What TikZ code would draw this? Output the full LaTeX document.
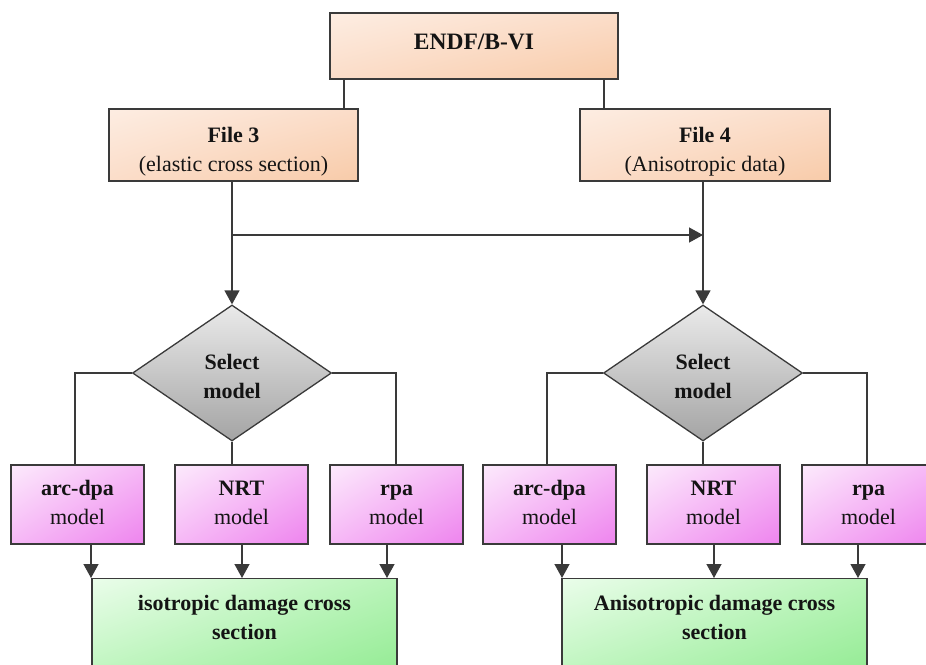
\documentclass[tikz,border=0pt]{standalone}
\usepackage{fontspec}
\setmainfont{Liberation Serif}
\usetikzlibrary{shapes.geometric,arrows.meta,shadings}
\definecolor{ln}{HTML}{3A3A3A}
\definecolor{txt}{HTML}{141414}
\definecolor{peA}{HTML}{FDEDE2}
\definecolor{peB}{HTML}{FBDDC9}
\definecolor{peC}{HTML}{F8CBA9}
\definecolor{piA}{HTML}{FCEAFC}
\definecolor{piB}{HTML}{F6B8F6}
\definecolor{piC}{HTML}{EE84EE}
\definecolor{grA}{HTML}{EAFDEA}
\definecolor{grB}{HTML}{B8F4B8}
\definecolor{grC}{HTML}{8EEA8E}
\definecolor{dgA}{HTML}{EAEAEA}
\definecolor{dgB}{HTML}{A4A4A4}
\newcommand{\lnst}{\vphantom{Adg}}
\newcommand{\upst}[1]{\rule{0pt}{#1}}
\begin{document}
\begin{tikzpicture}[x=1pt,y=-1pt,
  every node/.style={font=\fontsize{22}{29}\selectfont, text=txt, align=center},
  boxbase/.style={draw=ln, line width=1.3pt, rectangle, inner sep=0pt},
  peachbox/.style={boxbase, upper left=peA, upper right=peB, lower left=peB, lower right=peC},
  pinkbox/.style={boxbase, minimum width=133pt, minimum height=79pt, upper left=piA, upper right=piB, lower left=piB, lower right=piC},
  greenbox/.style={boxbase, anchor=north, minimum width=305pt, minimum height=110pt, upper left=grA, upper right=grB, lower left=grB, lower right=grC},
  decide/.style={diamond, draw=ln, line width=1.3pt, inner sep=0pt, aspect=1.46, minimum width=199pt, minimum height=136pt, top color=dgA, bottom color=dgB},
  conn/.style={draw=ln, line width=1.3pt},
  arr/.style={conn, -{Triangle[width=15pt,length=14pt]}}
]
\useasboundingbox (0,0) rectangle (926,664);
\clip (0,0) rectangle (926,664);
\fill[white] (0,0) rectangle (926,664);

% top
\node[peachbox, minimum width=288pt, minimum height=66pt] (endf) at (474,46) {\fontsize{23.5}{29}\selectfont\textbf{ENDF/B-VI}\rule[-8pt]{0pt}{8pt}};
\node[peachbox, minimum width=249pt, minimum height=72pt] (f3) at (233.5,145) {\textbf{File 3}\lnst\upst{29.6pt}\\(elastic cross section)\lnst};
\node[peachbox, minimum width=250pt, minimum height=72pt] (f4) at (705,145) {\textbf{File 4}\lnst\upst{29.6pt}\\(Anisotropic data)\lnst};

\coordinate (e1) at (344,79);
\coordinate (e2) at (604,79);
\draw[conn] (e1) -- (e1 |- f3.north);
\draw[conn] (e2) -- (e2 |- f4.north);

% diamonds
\node[decide] (d1) at (232,373) {\textbf{Select}\lnst\upst{27.6pt}\\\textbf{model}\lnst};
\node[decide] (d2) at (703,373) {\textbf{Select}\lnst\upst{27.6pt}\\\textbf{model}\lnst};

\draw[arr] (d1.north |- f3.south) -- (d1.north);
\draw[arr] (d2.north |- f4.south) -- (d2.north);
\coordinate (j1) at (232,235);
\coordinate (j2) at (703,235);
\draw[arr] (j1) -- (j2);

% model boxes left
\node[pinkbox] (a1) at (77.5,504.5) {\textbf{arc-dpa}\lnst\\model\lnst};
\node[pinkbox] (n1) at (241.5,504.5) {\textbf{NRT}\lnst\\model\lnst};
\node[pinkbox] (r1) at (396.5,504.5) {\textbf{rpa}\lnst\\model\lnst};
% model boxes right
\node[pinkbox] (a2) at (549.5,504.5) {\textbf{arc-dpa}\lnst\\model\lnst};
\node[pinkbox] (n2) at (713.5,504.5) {\textbf{NRT}\lnst\\model\lnst};
\node[pinkbox] (r2) at (868.5,504.5) {\textbf{rpa}\lnst\\model\lnst};

\coordinate (b1l) at (75,373);
\coordinate (b1r) at (396,373);
\coordinate (b2l) at (547,373);
\coordinate (b2r) at (867,373);
\draw[conn] (d1.west) -- (b1l) -- (b1l |- a1.north);
\draw[conn] (d1.east) -- (b1r) -- (b1r |- r1.north);
\draw[conn] (d1.south) -- (d1.south |- n1.north);
\draw[conn] (d2.west) -- (b2l) -- (b2l |- a2.north);
\draw[conn] (d2.east) -- (b2r) -- (b2r |- r2.north);
\draw[conn] (d2.south) -- (d2.south |- n2.north);

% result boxes
\node[greenbox] (g1) at (244.5,578) {};
\node (g1t) at (244.5,619.5) {\textbf{isotropic damage cross}\lnst\\\textbf{section}\lnst};
\node[greenbox] (g2) at (714.5,578) {};
\node (g2t) at (714.5,619.5) {\textbf{Anisotropic damage cross}\lnst\\\textbf{section}\lnst};

\coordinate (p1) at (91,544);
\coordinate (p2) at (242,544);
\coordinate (p3) at (387,544);
\coordinate (p4) at (562,544);
\coordinate (p5) at (714,544);
\coordinate (p6) at (858,544);
\draw[arr] (p1) -- (p1 |- g1.north);
\draw[arr] (p2) -- (p2 |- g1.north);
\draw[arr] (p3) -- (p3 |- g1.north);
\draw[arr] (p4) -- (p4 |- g2.north);
\draw[arr] (p5) -- (p5 |- g2.north);
\draw[arr] (p6) -- (p6 |- g2.north);
\end{tikzpicture}
\end{document}
